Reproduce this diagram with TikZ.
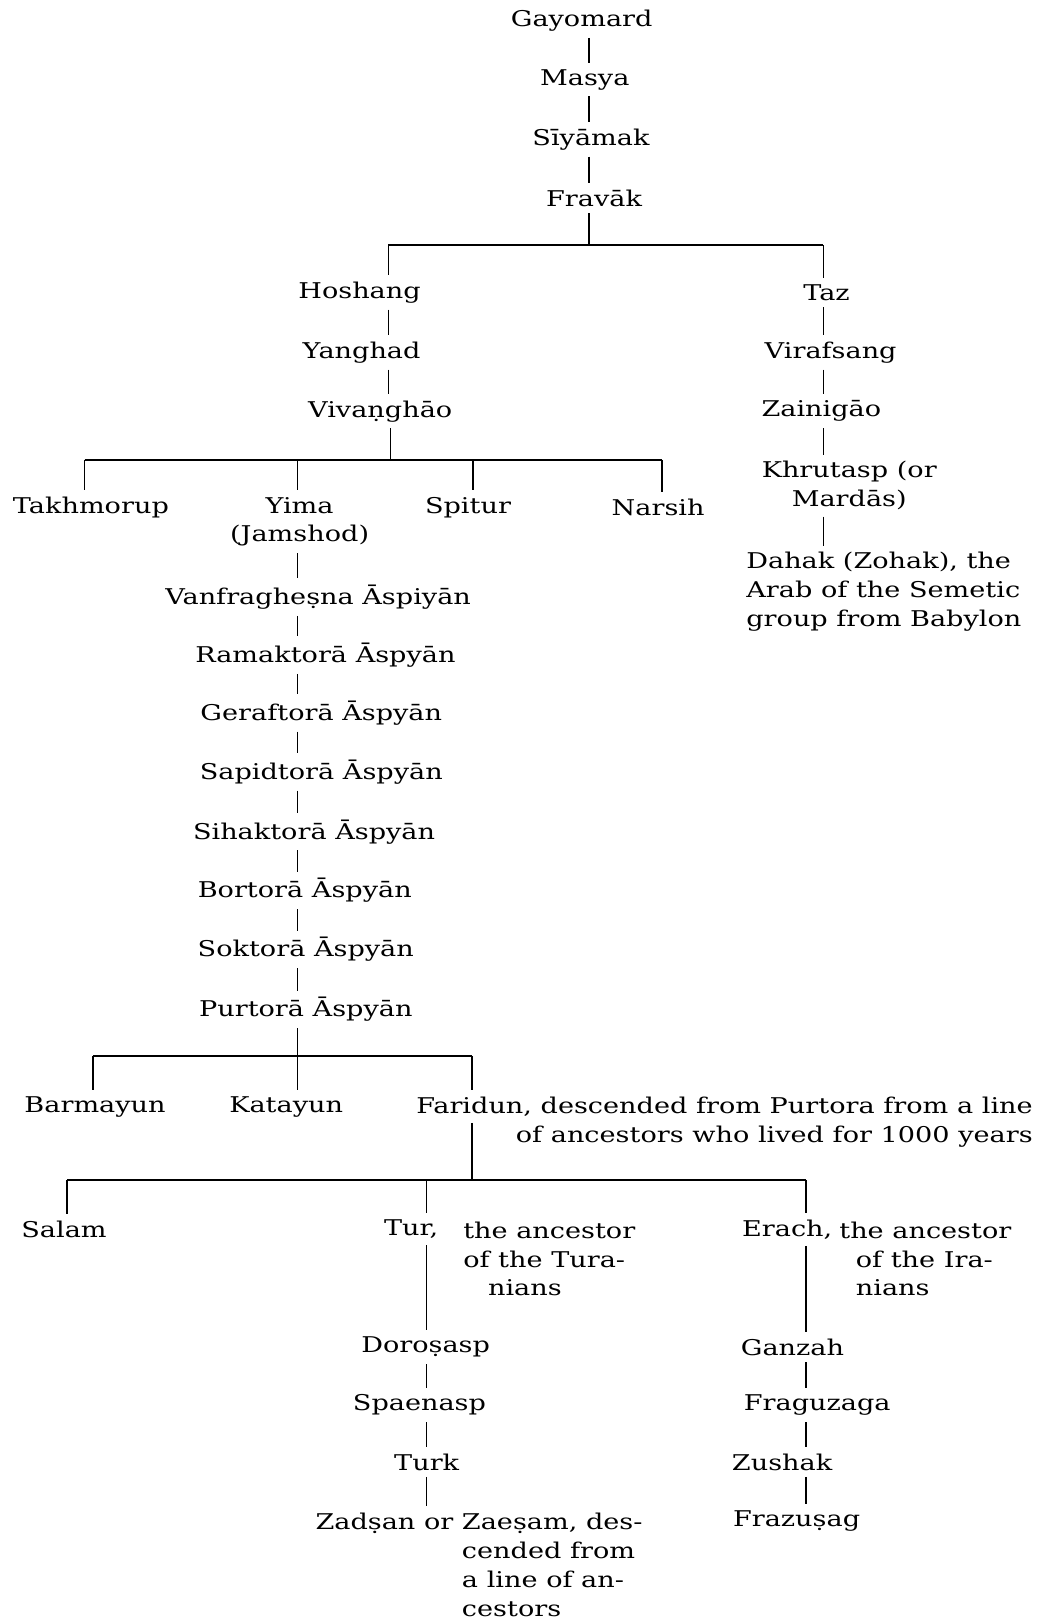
\documentclass[tikz,border=0pt]{standalone}
\usepackage{fontspec}
\setmainfont{DejaVu Serif}[FakeStretch=1.25]
\begin{document}
\begin{tikzpicture}[x=0.5pt, y=-0.5pt,
  person/.style={inner sep=3pt, font=\fontsize{10.5}{14}\selectfont},
  link/.style={line width=0.75pt},
  bar/.style={line width=1pt}]
\useasboundingbox (0,0) rectangle (1004,1568);
% top line
\node[person] (gayomard) at (563,20){Gayomard};
\node[person] (masya) at (566,77){Masya};
\node[person] (siyamak) at (572,135){Sīyāmak};
\node[person] (fravak) at (575,192){Fravāk};
\coordinate (b1) at (570,237);
\coordinate (b1-l) at (376,237);
\coordinate (b1-r) at (797,237);
\draw[link](gayomard.south -| b1) -- (masya.north -| b1);
\draw[link](masya.south -| b1) -- (siyamak.north -| b1);
\draw[link](siyamak.south -| b1) -- (fravak.north -| b1);
\draw[link](fravak.south -| b1) -- (b1);
\draw[bar](b1-l) -- (b1-r);
% Hoshang
\node[person] (hoshang) at (348,283){Hoshang};
\node[person] (yanghad) at (350,341){Yanghad};
\node[person] (vivanghao) at (368,398){Vivaṇghāo};
\draw[link](b1-l) -- (hoshang.north -| b1-l);
\draw[link](hoshang.south -| b1-l) -- (yanghad.north -| b1-l);
\draw[link](yanghad.south -| b1-l) -- (vivanghao.north -| b1-l);
% Taz
\node[person] (taz) at (800,283){Taz};
\node[person] (virafsang) at (804,341){Virafsang};
\node[person] (zainigao) at (795,398){Zainigāo};
\node[person, align=center] (khrutasp) at (822,470){Khrutasp (or\\Mardās)};
\node[person, align=left, anchor=north west] (dahak) at (716,528){Dahak (Zohak), the\\Arab of the Semetic\\group from Babylon};
\draw[link](b1-r) -- (taz.north -| b1-r);
\draw[link](taz.south -| b1-r) -- (virafsang.north -| b1-r);
\draw[link](virafsang.south -| b1-r) -- (zainigao.north -| b1-r);
\draw[link](zainigao.south -| b1-r) -- (khrutasp.north -| b1-r);
\draw[link](khrutasp.south -| b1-r) -- (dahak.north -| b1-r);
% children of Vivanghao
\coordinate (b2) at (378,445);
\coordinate (b2-l) at (82,445);
\coordinate (b2-y) at (288,445);
\coordinate (b2-s) at (458,445);
\coordinate (b2-r) at (641,445);
\node[person] (takhmorup) at (88,491){Takhmorup};
\node[person, align=center] (yima) at (290,505){Yima\\(Jamshod)};
\node[person] (spitur) at (453,491){Spitur};
\node[person] (narsih) at (637,491){Narsih};
\draw[link](vivanghao.south -| b2) -- (b2);
\draw[bar](b2-l) -- (b2-r);
\draw[link](b2-l) -- (takhmorup.north -| b2-l);
\draw[link](b2-y) -- (yima.north -| b2-y);
\draw[link](b2-s) -- (spitur.north -| b2-s);
\draw[link](b2-r) -- (narsih.north -| b2-r);
% Yima line
\node[person] (vanfraghesna) at (308,578){Vanfragheṣna Āspiyān};
\node[person] (ramaktora) at (315,634){Ramaktorā Āspyān};
\node[person] (geraftora) at (311,690){Geraftorā Āspyān};
\node[person] (sapidtora) at (311,747){Sapidtorā Āspyān};
\node[person] (sihaktora) at (304,805){Sihaktorā Āspyān};
\node[person] (bortora) at (295,862){Bortorā Āspyān};
\node[person] (soktora) at (296,919){Soktorā Āspyān};
\node[person] (purtora) at (296,977){Purtorā Āspyān};
\draw[link](yima.south -| b2-y) -- (vanfraghesna.north -| b2-y);
\draw[link](vanfraghesna.south -| b2-y) -- (ramaktora.north -| b2-y);
\draw[link](ramaktora.south -| b2-y) -- (geraftora.north -| b2-y);
\draw[link](geraftora.south -| b2-y) -- (sapidtora.north -| b2-y);
\draw[link](sapidtora.south -| b2-y) -- (sihaktora.north -| b2-y);
\draw[link](sihaktora.south -| b2-y) -- (bortora.north -| b2-y);
\draw[link](bortora.south -| b2-y) -- (soktora.north -| b2-y);
\draw[link](soktora.south -| b2-y) -- (purtora.north -| b2-y);
% children of Purtora
\coordinate (b3) at (288,1022);
\coordinate (b3-l) at (90,1022);
\coordinate (b3-r) at (457,1022);
\node[person] (barmayun) at (92,1071){Barmayun};
\node[person] (katayun) at (277,1071){Katayun};
\node[person, anchor=east] (faridun) at (1006,1071){Faridun, descended from Purtora from a line};
\node[person, anchor=east] (faridunnote) at (1006,1100){of ancestors who lived for 1000 years};
\draw[link](purtora.south -| b3) -- (b3);
\draw[bar](b3-l) -- (b3-r);
\draw[link](b3-l) -- (barmayun.north -| b3-l);
\draw[link](b3) -- (katayun.north -| b3);
\draw[link](b3-r) -- (faridun.north -| b3-r);
% children of Faridun
\coordinate (b4) at (457,1142);
\coordinate (b4-l) at (65,1142);
\coordinate (b4-m) at (413,1142);
\coordinate (b4-r) at (780,1142);
\node[person] (salam) at (62,1190){Salam};
\node[person] (tur) at (398,1190){Tur,};
\node[person, align=left, anchor=north west] (turnote) at (442,1176){the ancestor\\of the Tura-\\\hspace*{12pt}nians};
\node[person, anchor=east] (erach) at (812,1190){Erach,};
\node[person, align=left, anchor=north west] (erachnote) at (806,1176){the ancestor\\\hspace*{8pt}of the Ira-\\\hspace*{8pt}nians};
\draw[link](faridun.south -| b4) -- (b4);
\draw[bar](b4-l) -- (b4-r);
\draw[link](b4-l) -- (salam.north -| b4-l);
\draw[link](b4-m) -- (tur.north -| b4-m);
\draw[link](b4-r) -- (erach.north -| b4-r);
% Tur line
\node[person] (dorosasp) at (412,1304){Doroṣasp};
\node[person] (spaenasp) at (406,1360){Spaenasp};
\node[person] (turk) at (413,1415){Turk};
\node[person, align=left, anchor=north west] (zadsan) at (299,1458){Zadṣan or Zaeṣam, des-\\\phantom{Zadṣan or }cended from\\\phantom{Zadṣan or }a line of an-\\\phantom{Zadṣan or }cestors};
\draw[link](tur.south -| b4-m) -- (dorosasp.north -| b4-m);
\draw[link](dorosasp.south -| b4-m) -- (spaenasp.north -| b4-m);
\draw[link](spaenasp.south -| b4-m) -- (turk.north -| b4-m);
\draw[link](turk.south -| b4-m) -- (zadsan.north -| b4-m);
% Erach line
\node[person] (ganzah) at (767,1304){Ganzah};
\node[person] (fraguzaga) at (791,1360){Fraguzaga};
\node[person] (zushak) at (757,1415){Zushak};
\node[person] (frazusag) at (771,1472){Frazuṣag};
\draw[link](erach.south -| b4-r) -- (ganzah.north -| b4-r);
\draw[link](ganzah.south -| b4-r) -- (fraguzaga.north -| b4-r);
\draw[link](fraguzaga.south -| b4-r) -- (zushak.north -| b4-r);
\draw[link](zushak.south -| b4-r) -- (frazusag.north -| b4-r);
\end{tikzpicture}
\end{document}
